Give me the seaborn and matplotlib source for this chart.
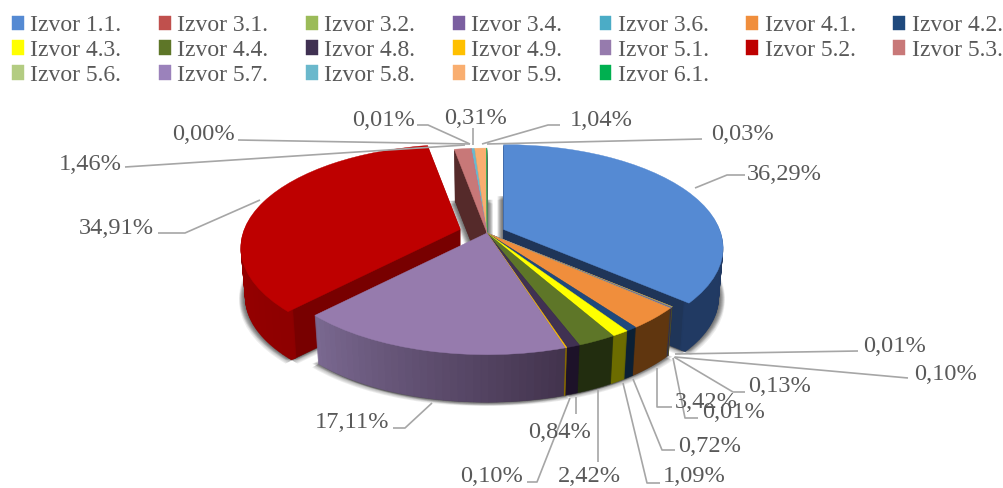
import numpy as np
import matplotlib
matplotlib.use("Agg")
import matplotlib.pyplot as plt
import seaborn as sns
from matplotlib.patches import Wedge
from matplotlib.transforms import Transform

# ── Data ───────────────────────────────────────────────────────
sources = ["Izvor 1.1.", "Izvor 3.1.", "Izvor 3.2.", "Izvor 3.4.", "Izvor 3.6.",
           "Izvor 4.1.", "Izvor 4.2.", "Izvor 4.3.", "Izvor 4.4.", "Izvor 4.8.",
           "Izvor 4.9.", "Izvor 5.1.", "Izvor 5.2.", "Izvor 5.3.", "Izvor 5.6.",
           "Izvor 5.7.", "Izvor 5.8.", "Izvor 5.9.", "Izvor 6.1."]
shares = [36.29, 0.01, 0.10, 0.13, 0.01,
          3.42, 0.72, 1.09, 2.42, 0.84,
          0.10, 17.11, 34.91, 1.46, 0.00,
          0.01, 0.31, 1.04, 0.03]

# ── Colours ────────────────────────────────────────────────────
top_colors = ["#558AD3", "#C0504D", "#9BBB59", "#7B5FA0", "#4BACC6",
              "#F08E3C", "#1F497D", "#FFFF00", "#5E7628", "#403152",
              "#FFC000", "#967BAD", "#BE0000", "#C87878", "#B3CC82",
              "#9B82BB", "#6AB8CC", "#F9AE70", "#00B050"]
cut_colors = ["#1F3558", "#5A2523", "#47562A", "#38294A", "#224F5B",
              "#60360F", "#0B2035", "#6C6C00", "#222D0F", "#1D1229",
              "#8A6C00", "#43344E", "#780000", "#552A2A", "#52603A",
              "#473A56", "#30555E", "#734F32", "#606060"]
wall_start = list(cut_colors)
wall_end = list(cut_colors)
wall_start[0], wall_end[0] = "#213A63", "#203760"
wall_start[11], wall_end[11] = "#7A6890", "#43344E"
wall_start[12], wall_end[12] = "#AE0000", "#8E0000"
TEXT_C = "#595959"
LINE_C = "#A6A6A6"

# ── Layout ─────────────────────────────────────────────────────
explode = [0.085 if i == 0 else 0.13 if i == 12 else 0 for i in range(19)]
# the six slices at the back get their tops after all their walls
back_slices = [16, 17, 18, 14, 15, 13]
paint_order = back_slices + [0, 1, 2, 3, 4, 12, 5, 6, 7, 8, 9, 10, 11]
label_xy = [(747, 175), (863, 346), (914, 374), (748, 387), (702, 412),
            (675, 402), (678, 447), (663, 477), (558, 477), (528, 433),
            (460, 477), (315, 422), (79, 228), (59, 165), (172, 135),
            (352, 120), (444, 118), (570, 120), (711, 135)]
leaders = [[(695, 188), (727, 175), (745, 175)],
           [(675, 354), (858, 351)],
           [(675, 357), (908, 378)],
           [(674, 357), (733, 392), (745, 392)],
           [(673, 358), (685, 418), (698, 418)],
           [(657, 368), (657, 407), (672, 407)],
           [(633, 379), (662, 450), (675, 450)],
           [(623, 383), (647, 483), (660, 483)],
           [(598, 390), (598, 462)],
           [(576, 397), (576, 414)],
           [(570, 398), (537, 482), (527, 482)],
           [(432, 403), (405, 428), (393, 428)],
           [(260, 200), (185, 233), (158, 233)],
           [(465, 145), (125, 167)],
           [(470, 144), (238, 140)],
           [(470, 144), (428, 125), (417, 125)],
           [(473, 145), (473, 128)],
           [(482, 144), (548, 125), (560, 125)],
           [(487, 144), (702, 139)]]

CX, CY = 487, 233
RX, RY = 216, 100
TILT = 0.178
DEPTH = 50
STEP = 1.0

sns.set_theme(style="white")
plt.rcParams["font.family"] = ["Liberation Serif", "DejaVu Serif"]


class PieView(Transform):
    """Tilted view of the unit pie, in pixel coordinates."""
    input_dims = 2
    output_dims = 2

    def __init__(self, drop=0.0, dx=0.0, dy=0.0):
        super().__init__()
        self.drop = drop
        self.dx = dx
        self.dy = dy

    def transform_non_affine(self, xy):
        xy = np.asarray(xy, dtype=float)
        w = 1 + TILT * xy[:, 1]
        shrink = 1 - 0.02 * self.drop / DEPTH
        return np.column_stack([
            CX + self.dx + RX * shrink * xy[:, 0] / w,
            CY + self.dy + self.drop - RY * shrink * xy[:, 1] / w,
        ])


fig = plt.figure(figsize=(10.04, 4.88), dpi=100, facecolor="white")
ax = fig.add_axes([0, 0, 1, 1])

wedges, _ = ax.pie(shares, colors=top_colors, explode=explode, startangle=90,
                   counterclock=False, normalize=True)
ax.set_aspect("auto")
ax.set_xlim(0, 1004)
ax.set_ylim(488, 0)
ax.set_axis_off()

# an exploded slice slides across the screen, it keeps its apex shape
offsets = []
for w in wedges:
    px = PieView().transform_non_affine(np.array([w.center]))[0]
    offsets.append((px[0] - CX, px[1] - CY))
    w.set_center((0, 0))


def add_wedge(src, color, view, zorder, theta1=None, theta2=None, width=None, alpha=None, r=1.0):
    patch = Wedge((0, 0), src.r * r,
                  src.theta1 if theta1 is None else theta1,
                  src.theta2 if theta2 is None else theta2,
                  width=width, facecolor=color, edgecolor=color if alpha is None else "none",
                  linewidth=0.3, alpha=alpha, clip_on=False, zorder=zorder)
    patch.set_transform(view + ax.transData)
    ax.add_patch(patch)


# soft shadow under the bottom faces
for k in range(1, 7):
    for ox, oy in [(-k, k * 0.6), (k, k * 0.6), (-k, 0), (k, 0)]:
        for i, w in enumerate(wedges):
            if shares[i] >= 0.3:
                dx, dy = offsets[i]
                add_wedge(w, "#303030", PieView(DEPTH, dx + ox, dy + oy), 1, alpha=0.085)

# walls, lowest layer first, slices painted back to front
layers = np.arange(DEPTH, 0, -STEP)
for rank, i in enumerate(paint_order):
    w = wedges[i]
    dx, dy = offsets[i]
    strips = 36 if wall_start[i] != wall_end[i] else 1
    shades = sns.blend_palette([wall_start[i], wall_end[i]], strips)
    edges = np.linspace(w.theta1, w.theta2, strips + 1)
    for n, d in enumerate(layers):
        add_wedge(w, cut_colors[i], PieView(d, dx, dy), 10 + rank + n / 1000, r=0.985)
    for n, d in enumerate(layers):
        for s in range(strips):
            add_wedge(w, shades[s], PieView(d, dx, dy), 10 + rank + 0.2 + n / 1000,
                      theta1=edges[s], theta2=edges[s + 1], width=0.025)
    w.set_transform(PieView(0, dx, dy) + ax.transData)
    w.set_edgecolor(top_colors[i])
    w.set_linewidth(0.3)
    w.set_clip_on(False)
    w.set_zorder(10 + len(back_slices) + rank * 0.01 if i in back_slices else 10 + rank + 0.95)

# leader lines and percentage labels
for path, (tx, ty), val in zip(leaders, label_xy, shares):
    xs, ys = zip(*path)
    ax.plot(xs, ys, color=LINE_C, lw=1.2, zorder=50, solid_capstyle="butt")
    ax.text(tx, ty, f"{val:.2f}%".replace(".", ","), fontsize=17.6, color=TEXT_C,
            ha="left", va="center", zorder=60)

# legend fills by column, so hand it the entries row-wise
ncols = 7
order = [j for c in range(ncols) for j in range(c, len(sources), ncols)]
ax.legend([wedges[j] for j in order], [sources[j] for j in order], ncol=ncols,
          loc="upper left", bbox_to_anchor=(12 / 1004, 1 - 15 / 488),
          frameon=False, fontsize=17, labelcolor=TEXT_C,
          handlelength=0.5, handleheight=0.55, handletextpad=0.28,
          columnspacing=1.585, labelspacing=0.165, borderaxespad=0, borderpad=0)

fig.savefig("out.png", dpi=100, facecolor="white")
